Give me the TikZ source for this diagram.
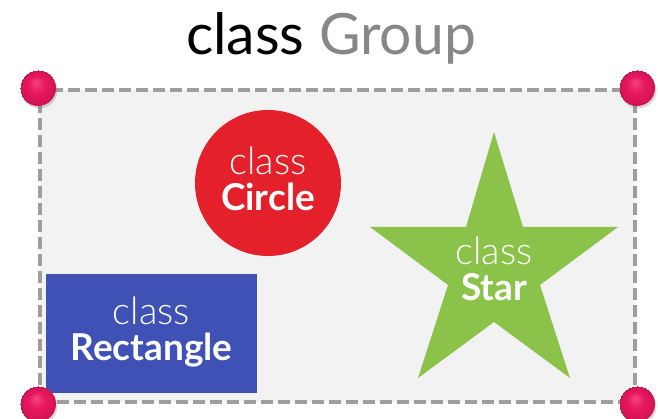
\documentclass[tikz,border=0pt]{standalone}
\usepackage{fontspec}
\setmainfont{Lato}
\newfontfamily\lightfont{Lato Light}
\usetikzlibrary{shadows}

\definecolor{groupfill}{HTML}{F2F2F2}
\definecolor{groupline}{HTML}{9E9E9E}
\definecolor{titlegray}{HTML}{878787}
\definecolor{circlered}{HTML}{E4202A}
\definecolor{stargreen}{HTML}{8BC34A}
\definecolor{rectblue}{HTML}{3F51B5}
\definecolor{tacklight}{HTML}{F4457C}
\definecolor{tackmain}{HTML}{E8175D}
\definecolor{tackdark}{HTML}{C80F4C}

\pgfdeclareradialshading{tackball}{\pgfpoint{-3bp}{9bp}}{%
  color(0bp)=(tacklight); color(12bp)=(tackmain);
  color(22bp)=(tackmain!92!black); color(25bp)=(tackdark)}

\tikzset{
  shapetext/.style={text=white, align=center,
    font=\fontsize{37}{36}\selectfont},
  tack/.style={circle, minimum size=36pt, inner sep=0pt,
    shading=tackball,
    drop shadow={opacity=0.3, shadow xshift=1.5pt, shadow yshift=-2.5pt}},
}

\newcommand{\clsname}[1]{{\lightfont\fontsize{38}{36}\selectfont class}\\{\bfseries #1}}

\begin{document}
\begin{tikzpicture}[x=1pt, y=1pt]
  \useasboundingbox (0,0) rectangle (658,419);

  % title
  \node[anchor=base, inner sep=0pt, font=\fontsize{57}{60}\selectfont]
    (title) at (331,364) {class \textcolor{titlegray}{Group}};

  % the group frame
  \node[draw=groupline, fill=groupfill, line width=4pt,
        dash pattern=on 12pt off 5pt, inner sep=0pt,
        minimum width=595pt, minimum height=312pt]
    (group) at (337.5,173) {};

  % members of the group
  \node[circle, fill=circlered, minimum size=146pt, inner sep=0pt]
    (circ) at (268,236) {};
  \node[shapetext] (circtext) at (268,240) {\clsname{Circle}};

  \node[fill=rectblue, minimum width=211pt, minimum height=119pt, inner sep=0pt]
    (rect) at (151.5,85.5) {};
  \node[shapetext] (recttext) at (151.5,87) {\clsname{Rectangle}};

  % five-pointed star
  \fill[stargreen] (494,287) -- (523,192) -- (618,192) -- (540,134)
    -- (570,41) -- (494,97) -- (418,41) -- (448,134)
    -- (370,192) -- (466,192) -- cycle;
  \node[shapetext] (startext) at (494,150) {\clsname{Star}};

  % corner tacks
  \node[tack] (tacknw) at (group.north west) {};
  \node[tack] (tackne) at (group.north east) {};
  \node[tack] (tacksw) at (group.south west) {};
  \node[tack] (tackse) at (group.south east) {};
\end{tikzpicture}
\end{document}
